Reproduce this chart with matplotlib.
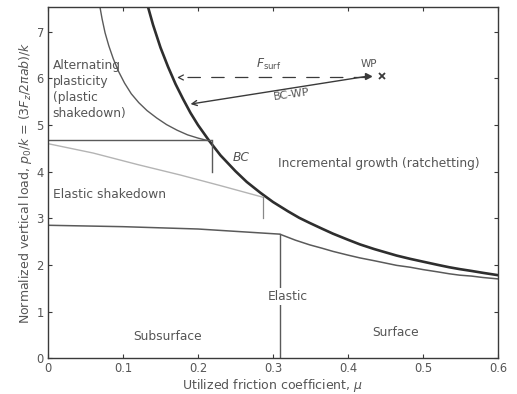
import matplotlib.pyplot as plt

plt.rcParams['font.family'] = ['DejaVu Sans']

# Surface shakedown limit (thick curve)
mu_surface = [0.133, 0.14, 0.15, 0.16, 0.17, 0.18, 0.19, 0.20, 0.215, 0.23, 0.25, 0.265,
              0.283, 0.30, 0.32, 0.335, 0.349, 0.365, 0.38, 0.40, 0.416, 0.435, 0.45, 0.465,
              0.483, 0.50, 0.52, 0.535, 0.549, 0.565, 0.58, 0.6]
p_surface = [7.55, 7.15, 6.66, 6.25, 5.88, 5.56, 5.26, 5.00, 4.66, 4.35, 4.01, 3.78,
             3.55, 3.35, 3.15, 3.01, 2.90, 2.78, 2.67, 2.54, 2.44, 2.34, 2.27, 2.20,
             2.13, 2.07, 2.00, 1.95, 1.91, 1.87, 1.83, 1.78]

# Alternating plasticity boundary (thin curve meeting point BC)
mu_alt = [0.069, 0.072, 0.076, 0.081, 0.087, 0.094, 0.102, 0.111, 0.121, 0.132, 0.145,
          0.158, 0.172, 0.186, 0.20, 0.212]
p_alt = [7.55, 7.28, 6.98, 6.70, 6.42, 6.15, 5.90, 5.67, 5.48, 5.31, 5.15,
         5.01, 4.89, 4.79, 4.72, 4.67]

# Plastic shakedown limit (horizontal line) and its end marker
mu_plastic = [0.0, 0.217]
p_plastic = [4.68, 4.68]
mu_bc_tick = [0.219, 0.219]
p_bc_tick = [4.68, 4.0]

# Subsurface elastic shakedown limit (light line) and its end marker
mu_es = [0.0, 0.06, 0.12, 0.176, 0.23, 0.287]
p_es = [4.60, 4.40, 4.15, 3.93, 3.70, 3.45]
mu_es_tick = [0.287, 0.287]
p_es_tick = [3.45, 3.0]

# Elastic limit (lower curve)
mu_elastic = [0.0, 0.1, 0.2, 0.309, 0.33, 0.349, 0.365, 0.38, 0.40, 0.416, 0.435, 0.45,
              0.465, 0.483, 0.50, 0.52, 0.535, 0.549, 0.565, 0.58, 0.6]
p_elastic = [2.85, 2.82, 2.77, 2.66, 2.53, 2.43, 2.36, 2.29, 2.21, 2.15, 2.09, 2.04,
             1.99, 1.95, 1.90, 1.85, 1.81, 1.78, 1.76, 1.73, 1.70]
mu_el_tick = [0.309, 0.309]
p_el_tick = [0.0, 2.66]

# Working point and load paths
wp_mu, wp_p = 0.445, 6.05
fsurf_start = (0.425, 6.02)
fsurf_end = (0.172, 6.02)
bcwp_end = (0.19, 5.45)
bcwp_start = (0.427, 6.05)

x_ticks = [0, 0.1, 0.2, 0.3, 0.4, 0.5, 0.6]
x_labels = ['0', '0.1', '0.2', '0.3', '0.4', '0.5', '0.6']
y_ticks = [0, 1, 2, 3, 4, 5, 6, 7]

fig = plt.figure(figsize=(5.17, 3.94), dpi=100)
ax = fig.add_axes([0.093, 0.091, 0.870, 0.891])

dark = '#3a3a3a'
mid = '#5a5a5a'
light = '#b4b4b4'
txt = '#555555'

ax.plot(mu_surface, p_surface, color='#2e2e2e', lw=1.9)
ax.plot(mu_alt, p_alt, color=mid, lw=1.0)
ax.plot(mu_plastic, p_plastic, color=mid, lw=1.0)
ax.plot(mu_bc_tick, p_bc_tick, color=mid, lw=1.0)
ax.plot(mu_es, p_es, color=light, lw=1.0)
ax.plot(mu_es_tick, p_es_tick, color='#888888', lw=0.9)
ax.plot(mu_elastic, p_elastic, color=mid, lw=1.1)
ax.plot(mu_el_tick, p_el_tick, color=mid, lw=1.0)

# Load paths
ax.annotate('', xy=fsurf_end, xytext=fsurf_start,
            arrowprops=dict(arrowstyle='->', color=dark, lw=0.9, linestyle=(0, (10, 9)),
                            mutation_scale=9, shrinkA=0, shrinkB=0))
ax.annotate('', xy=bcwp_end, xytext=bcwp_start,
            arrowprops=dict(arrowstyle='->', color=dark, lw=1.0, mutation_scale=9,
                            shrinkA=0, shrinkB=0))
ax.plot([bcwp_start[0]], [bcwp_start[1]], marker='>', color=dark, ms=4)
ax.plot([wp_mu], [wp_p], marker='x', color=dark, ms=5, mew=1.3)

fs = 8.8
ax.text(0.006, 5.77, 'Alternating\nplasticity\n(plastic\nshakedown)', fontsize=fs, color=txt,
        va='center', ha='left', linespacing=1.3)
ax.text(0.006, 3.50, 'Elastic shakedown', fontsize=fs, color=txt, va='center', ha='left')
ax.text(0.246, 4.31, 'BC', fontsize=fs, color=txt, va='center', ha='left', style='italic')
ax.text(0.307, 4.18, 'Incremental growth (ratchetting)', fontsize=fs, color=txt,
        va='center', ha='left')
ax.text(0.278, 6.30, r'$F_{\mathrm{surf}}$', fontsize=fs, color=txt, va='center', ha='left')
ax.text(0.417, 6.32, 'WP', fontsize=7.5, color=txt, va='center', ha='left')
ax.text(0.325, 5.66, 'BC-WP', fontsize=8, color=txt, va='center', ha='center', rotation=8)
ax.text(0.32, 1.33, 'Elastic', fontsize=fs, color=txt, va='center', ha='center',
        bbox=dict(facecolor='white', edgecolor='none', pad=1.5))
ax.text(0.159, 0.47, 'Subsurface', fontsize=fs, color=txt, va='center', ha='center')
ax.text(0.464, 0.54, 'Surface', fontsize=fs, color=txt, va='center', ha='center')

ax.set_xlim(0, 0.6)
ax.set_ylim(0, 7.53)
ax.set_xticks(x_ticks)
ax.set_xticklabels(x_labels)
ax.set_yticks(y_ticks)
ax.tick_params(direction='in', top=True, right=True, length=3, width=0.8,
               labelsize=8.3, labelcolor=txt, color=dark, pad=3)
for s in ax.spines.values():
    s.set_color(dark)
    s.set_linewidth(1.0)

ax.set_xlabel(r'Utilized friction coefficient, $\mu$', fontsize=9, color=txt, labelpad=1)
ax.set_ylabel(r'Normalized vertical load, $p_0/k$ = (3$F_z$/2$\pi ab$)/$k$', fontsize=9,
              color=txt, labelpad=2)

fig.savefig('out.png', dpi=100, facecolor='white')
